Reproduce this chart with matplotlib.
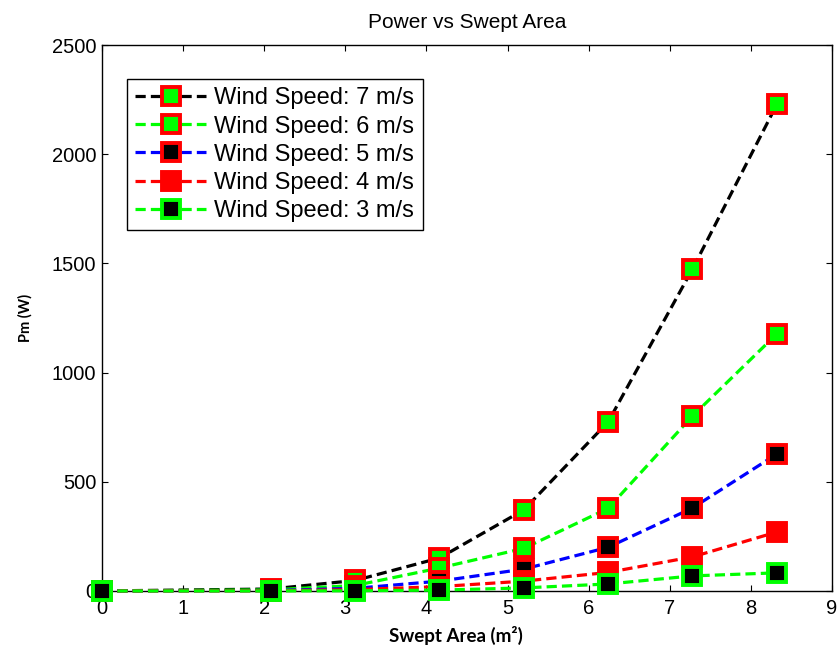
import numpy as np
import matplotlib
matplotlib.use("Agg")
import matplotlib.pyplot as plt

# swept area (m^2)
area = [0, 2.08, 3.12, 4.16, 5.2, 6.24, 7.28, 8.32]

# mechanical power (W) for each wind speed
p_7 = [0, 9, 48, 151, 371, 774, 1474, 2228]
p_6 = [0, 5, 25, 105, 195, 378, 801, 1177]
p_5 = [0, 2, 12, 45, 100, 200, 380, 627]
p_4 = [0, 1, 6, 20, 45, 85, 156, 270]
p_3 = [0, 0, 1, 4, 14, 32, 69, 83]

labels = ["Wind Speed: 7 m/s", "Wind Speed: 6 m/s", "Wind Speed: 5 m/s",
          "Wind Speed: 4 m/s", "Wind Speed: 3 m/s"]

plt.rcParams["font.family"] = ["Liberation Sans", "DejaVu Sans"]

fig = plt.figure(figsize=(8.38, 6.53), dpi=100)
ax = fig.add_axes([0.1217, 0.095, 0.8711, 0.836])

G = (0, 1, 0)
styles = [
    # line colour, marker edge, marker face
    ("black", "red", G),
    (G, "red", G),
    ("blue", "red", "black"),
    ("red", "red", "red"),
    (G, G, "black"),
]

for y, lab, (lc, mec, mfc) in zip([p_7, p_6, p_5, p_4, p_3], labels, styles):
    ax.plot(area, y, color=lc, linestyle="--", lw=2.3, dashes=(3.2, 1.6),
            marker="s", ms=13, mew=2.8, mec=mec, mfc=mfc, label=lab,
            clip_on=False, zorder=3)

ax.set_xlim(0, 9)
ax.set_ylim(0, 2500)
ax.set_xticks(range(0, 10))
ax.set_yticks(range(0, 2501, 500))
ax.tick_params(direction="in", length=4, width=0.8, labelsize=14.5,
               top=True, right=True)
ax.tick_params(axis="x", pad=6)
ax.tick_params(axis="y", pad=4)
for s in ax.spines.values():
    s.set_linewidth(1.0)

ax.set_title("Power vs Swept Area", fontsize=15, pad=12)
ax.set_xlabel("Swept Area (m²)", fontsize=13.5, fontweight="bold",
              family=["Lato", "DejaVu Sans"], labelpad=4)
ax.set_ylabel("Pm (W)", fontsize=10.5, fontweight="bold",
              family=["Lato", "DejaVu Sans"], labelpad=14)
ax.xaxis.set_label_coords(0.485, -0.065)

leg = ax.legend(loc="upper left", bbox_to_anchor=(0.0342, 0.9375), fontsize=17,
                handlelength=3.0, labelspacing=0.26, handletextpad=0.35,
                borderpad=0.35, borderaxespad=0, fancybox=False, framealpha=1,
                edgecolor="black")
leg.get_frame().set_linewidth(1.0)

fig.savefig("out.png", dpi=100)
